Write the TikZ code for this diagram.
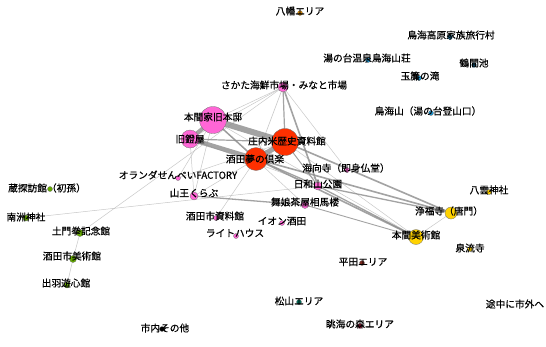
\documentclass[tikz,border=0pt]{standalone}
\usepackage{fontspec}
\setmainfont{Noto Sans CJK JP}
\newfontfamily\lblfont[FakeBold=0.5]{Noto Sans CJK JP}
\definecolor{cpink}{RGB}{255,102,214}
\definecolor{cred}{RGB}{255,48,0}
\definecolor{cyel}{RGB}{255,210,0}
\definecolor{cgreen}{RGB}{100,170,0}
\definecolor{cblue}{RGB}{30,150,210}
\definecolor{corange}{RGB}{220,140,0}
\definecolor{cbrown}{RGB}{120,40,30}
\definecolor{cteal}{RGB}{0,110,90}
\definecolor{ccrim}{RGB}{200,30,70}
\tikzset{
  v/.style={circle, draw=black!55, line width=0.3pt, inner sep=0pt, minimum size=#1},
  lab/.style={font=\lblfont\fontsize{9.7}{10}\selectfont, inner sep=0pt, text=black},
  ed/.style={draw=gray!90, opacity=0.8, line width=#1},
  el/.style={draw=gray!60, opacity=0.7, line width=#1},
}
\begin{document}
\begin{tikzpicture}[x=1pt,y=-1pt]
\useasboundingbox[fill=white] (0,0) rectangle (546,346);
% vertices
\path
 (300,13) coordinate (yahataC)
 (450,37) coordinate (kogenC)
 (368,60) coordinate (yunodaiC)
 (474,65) coordinate (tsurumaC)
 (419,78) coordinate (tamaC)
 (431,113) coordinate (chokaiC)
 (283,87) coordinate (kaisenC)
 (213,120) coordinate (honmaC)
 (190,139) coordinate (abumiC)
 (285,142) coordinate (shonaiC)
 (256,159) coordinate (yumeC)
 (347,170) coordinate (kaikojiC)
 (318,186) coordinate (hiyoriC)
 (305,205) coordinate (maikoC)
 (178,178) coordinate (orandaC)
 (194,196) coordinate (sannoC)
 (50,189) coordinate (kuraC)
 (26,218) coordinate (nanshuC)
 (216,218) coordinate (shiryoC)
 (282,223) coordinate (aeonC)
 (236,236) coordinate (lightC)
 (80,233) coordinate (domonC)
 (73,259) coordinate (bijutsuC)
 (67,285) coordinate (dewaC)
 (162,329) coordinate (sonotaC)
 (489,192) coordinate (yakumoC)
 (451,213) coordinate (joufukuC)
 (416,237) coordinate (honmabC)
 (470,249) coordinate (senryuC)
 (362,263) coordinate (hirataC)
 (299,302) coordinate (matsuC)
 (360,326) coordinate (moriC);
% edges
\draw[el=0.5] (honmaC) -- (honmabC);
\draw[el=0.5] (honmaC) -- (maikoC);
\draw[el=0.5] (abumiC) -- (hiyoriC);
\draw[el=0.5] (orandaC) -- (honmaC);
\draw[el=0.5] (orandaC) -- (shonaiC);
\draw[el=0.5] (sannoC) -- (abumiC);
\draw[el=0.5] (sannoC) -- (yumeC);
\draw[el=0.5] (sannoC) -- (honmaC);
\draw[el=0.5] (nanshuC) -- (hiyoriC);
\draw[el=0.5] (domonC) -- (kaisenC);
\draw[el=0.5] (domonC) -- (bijutsuC);
\draw[el=0.5] (bijutsuC) -- (dewaC);
\draw[el=0.5] (honmabC) -- (joufukuC);
\draw[el=0.5] (shonaiC) -- (honmabC);
\draw[el=0.5] (kaisenC) -- (honmaC);
\draw[el=0.5] (kaisenC) -- (abumiC);
\draw[el=0.5] (kaisenC) -- (kaikojiC);
\draw[el=0.6] (kaisenC) -- (yumeC);
\draw[el=0.5] (yumeC) -- (shiryoC);
\draw[ed=1.2] (kaisenC) -- (shonaiC);
\draw[ed=1.6] (kaisenC) -- (hiyoriC);
\draw[ed=1] (shonaiC) -- (hiyoriC);
\draw[ed=1.3] (yumeC) -- (hiyoriC);
\draw[ed=1.6] (shonaiC) -- (joufukuC);
\draw[ed=1.6] (yumeC) -- (joufukuC);
\draw[ed=1.3] (hiyoriC) -- (joufukuC);
\draw[ed=1.6] (yumeC) -- (honmabC);
\draw[ed=1.3] (hiyoriC) -- (honmabC);
\draw[ed=0.9] (maikoC) -- (honmabC);
\draw[ed=1.3] (sannoC) -- (maikoC);
\draw[ed=1.2] (abumiC) -- (shonaiC);
\draw[ed=1.5] (honmaC) -- (yumeC);
\draw[ed=4] (honmaC) -- (abumiC);
\draw[ed=4.5] (abumiC) -- (yumeC);
\draw[ed=5] (shonaiC) -- (yumeC);
\draw[ed=6] (honmaC) -- (shonaiC);
% nodes
\node[v=5pt, fill=corange] (yahata) at (yahataC) {};
\node[v=5pt, fill=cblue] (kogen) at (kogenC) {};
\node[v=5pt, fill=cblue] (yunodai) at (yunodaiC) {};
\node[v=5pt, fill=cblue] (tsuruma) at (tsurumaC) {};
\node[v=5pt, fill=cblue] (tama) at (tamaC) {};
\node[v=5pt, fill=cblue] (chokai) at (chokaiC) {};
\node[v=10pt, fill=cpink] (kaisen) at (kaisenC) {};
\node[v=27pt, fill=cpink] (honma) at (honmaC) {};
\node[v=18pt, fill=cpink] (abumi) at (abumiC) {};
\node[v=27pt, fill=cred] (shonai) at (shonaiC) {};
\node[v=23pt, fill=cred] (yume) at (yumeC) {};
\node[v=5pt, fill=cpink] (kaikoji) at (kaikojiC) {};
\node[v=8pt, fill=cpink] (hiyori) at (hiyoriC) {};
\node[v=7pt, fill=cpink] (maiko) at (maikoC) {};
\node[v=5pt, fill=cpink] (oranda) at (orandaC) {};
\node[v=8pt, fill=cpink] (sanno) at (sannoC) {};
\node[v=5pt, fill=cgreen] (kura) at (kuraC) {};
\node[v=6pt, fill=cgreen] (nanshu) at (nanshuC) {};
\node[v=5pt, fill=cpink] (shiryo) at (shiryoC) {};
\node[v=5pt, fill=cpink] (aeon) at (aeonC) {};
\node[v=5pt, fill=cpink] (light) at (lightC) {};
\node[v=7pt, fill=cgreen] (domon) at (domonC) {};
\node[v=7pt, fill=cgreen] (bijutsu) at (bijutsuC) {};
\node[v=6pt, fill=cgreen] (dewa) at (dewaC) {};
\node[v=5pt, fill=black] (sonota) at (sonotaC) {};
\node[v=5pt, fill=cyel] (yakumo) at (yakumoC) {};
\node[v=12pt, fill=cyel] (joufuku) at (joufukuC) {};
\node[v=15pt, fill=cyel] (honmab) at (honmabC) {};
\node[v=5pt, fill=cyel] (senryu) at (senryuC) {};
\node[v=5pt, fill=cbrown] (hirata) at (hirataC) {};
\node[v=5pt, fill=cteal] (matsu) at (matsuC) {};
\node[v=5pt, fill=ccrim] (mori) at (moriC) {};
% labels
\node[lab] (Lyahata) at (300,11) {八幡エリア};
\node[lab] (Lkogen) at (451,35) {鳥海高原家族旅行村};
\node[lab] (Lyunodai) at (367,58) {湯の台温泉鳥海山荘};
\node[lab] (Ltsuruma) at (474,63) {鶴間池};
\node[lab] (Ltama) at (420,76) {玉簾の滝};
\node[lab] (Lchokai) at (428,111) {鳥海山（湯の台登山口）};
\node[lab] (Lkaisen) at (284,85) {さかた海鮮市場・みなと市場};
\node[lab] (Lhonma) at (213,117) {本間家旧本邸};
\node[lab] (Labumi) at (190,139) {旧鐙屋};
\node[lab] (Lshonai) at (287,141) {庄内米歴史資料館};
\node[lab] (Lyume) at (255,159) {酒田夢の倶楽};
\node[lab] (Lkaikoji) at (346,168) {海向寺（即身仏堂）};
\node[lab] (Lhiyori) at (318,184) {日和山公園};
\node[lab] (Lmaiko) at (305,202) {舞娘茶屋相馬楼};
\node[lab] (Loranda) at (178,175) {オランダせんべいFACTORY};
\node[lab] (Lsanno) at (194,193) {山王くらぶ};
\node[lab] (Lkura) at (47,188) {蔵探訪館（初孫）};
\node[lab] (Lnanshu) at (26,217) {南洲神社};
\node[lab] (Lshiryo) at (215,216) {酒田市資料館};
\node[lab] (Laeon) at (282,221) {イオン酒田};
\node[lab] (Llight) at (235,233) {ライトハウス};
\node[lab] (Ldomon) at (81,231) {土門拳記念館};
\node[lab] (Lbijutsu) at (72,256) {酒田市美術館};
\node[lab] (Ldewa) at (66,283) {出羽遊心館};
\node[lab] (Lsonota) at (165,328) {市内その他};
\node[lab] (Lyakumo) at (489,190) {八雲神社};
\node[lab] (Ljoufuku) at (449,211) {浄福寺（唐門）};
\node[lab] (Lhonmab) at (416,235) {本間美術館};
\node[lab] (Lsenryu) at (470,248) {泉流寺};
\node[lab] (Lhirata) at (363,262) {平田エリア};
\node[lab] (Lmatsu) at (299,301) {松山エリア};
\node[lab] (Ltochu) at (515,304) {途中に市外へ};
\node[lab] (Lmori) at (360,324) {眺海の森エリア};
\end{tikzpicture}
\end{document}
